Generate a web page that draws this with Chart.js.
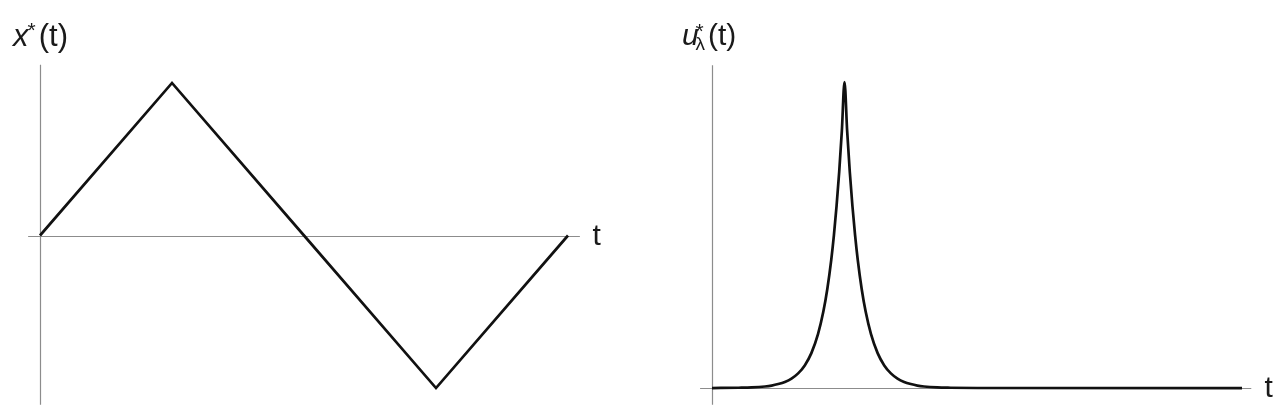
<!DOCTYPE html>
<html>
<head>
<meta charset="utf-8">
<script src="https://cdn.jsdelivr.net/npm/chart.js@4/dist/chart.umd.min.js"></script>
<style>
  html, body { margin:0; padding:0; background:#fff; }
  body { width:1280px; height:416px; position:relative; overflow:hidden; font-family:"Liberation Sans", Arial, sans-serif; color:#1a1a1a; }
  .pane { position:absolute; top:0; width:640px; height:416px; }
  .lbl { position:absolute; white-space:nowrap; }
</style>
</head>
<body>
<div class="pane" style="left:0"><canvas id="c1" width="640" height="416"></canvas></div>
<div class="pane" style="left:640px"><canvas id="c2" width="640" height="416"></canvas></div>

<span class="lbl" style="left:13px;top:19.8px;font-size:31px;line-height:31px;font-style:italic">x</span>
<span class="lbl" style="left:27.5px;top:19.4px;font-size:21px;line-height:21px">*</span>
<span class="lbl" style="left:38.8px;top:19.8px;font-size:31px;line-height:31px">(t)</span>
<span class="lbl" style="left:592.5px;top:219.6px;font-size:30px;line-height:30px">t</span>

<span class="lbl" style="left:682px;top:19.6px;font-size:30px;line-height:30px;font-style:italic">u</span>
<span class="lbl" style="left:695.5px;top:20.4px;font-size:21px;line-height:21px">*</span>
<span class="lbl" style="left:695.5px;top:34px;font-size:19px;line-height:19px">λ</span>
<span class="lbl" style="left:708px;top:20.1px;font-size:30px;line-height:30px">(t)</span>
<span class="lbl" style="left:1264.5px;top:371.6px;font-size:30px;line-height:30px">t</span>

<script>
// ---- data ----
// left panel: x*(t)
const tLeft = [0, 1, 2, 3, 4];
const xStar = [0, 1, 0, -1, 0];

// right panel: u*_λ(t)
const tRight = [0, 0.2, 0.3, 0.4, 0.45, 0.5, 0.55, 0.6, 0.65, 0.7, 0.75, 0.8, 0.84, 0.87, 0.9, 0.92, 0.94, 0.96, 0.98, 1.0,
                1.02, 1.04, 1.06, 1.08, 1.1, 1.13, 1.16, 1.2, 1.25, 1.3, 1.35, 1.4, 1.45, 1.5, 1.55, 1.6, 1.7, 1.8, 2.0, 4.0];
const uStar  = [0, 0.001, 0.002, 0.005, 0.008, 0.013, 0.020, 0.031, 0.048, 0.074, 0.114, 0.176, 0.249, 0.323, 0.419, 0.499, 0.594, 0.706, 0.840, 1.0,
                0.840, 0.706, 0.594, 0.499, 0.419, 0.323, 0.249, 0.176, 0.114, 0.074, 0.048, 0.031, 0.020, 0.013, 0.008, 0.005, 0.002, 0.001, 0.0002, 0];

function axesPlugin(xFrom, xTo, yFrom, yTo) {
  return {
    id: 'axes',
    beforeDatasetsDraw(chart) {
      const {ctx, scales: {x, y}} = chart;
      ctx.save();
      ctx.strokeStyle = '#8c8c8c';
      ctx.lineWidth = 1.2;
      const y0 = Math.round(y.getPixelForValue(0)) + 0.5;
      const x0 = Math.round(x.getPixelForValue(0)) + 0.5;
      ctx.beginPath();
      ctx.moveTo(x.getPixelForValue(xFrom), y0);
      ctx.lineTo(x.getPixelForValue(xTo), y0);
      ctx.moveTo(x0, y.getPixelForValue(yTo));
      ctx.lineTo(x0, y.getPixelForValue(yFrom));
      ctx.stroke();
      ctx.restore();
    }
  };
}

function makeChart(id, ts, vs, xr, yr, pad, axisExt, smooth) {
  return new Chart(document.getElementById(id), {
    type: 'line',
    data: {
      datasets: [{
        data: ts.map((t, i) => ({x: t, y: vs[i]})),
        borderColor: '#111',
        borderWidth: 2.7,
        borderJoinStyle: 'miter',
        pointRadius: 0,
        fill: false,
        tension: 0,
        cubicInterpolationMode: smooth ? 'monotone' : 'default',
        clip: false
      }]
    },
    options: {
      responsive: false,
      animation: false,
      devicePixelRatio: 1,
      layout: { padding: pad },
      plugins: { legend: { display: false }, tooltip: { enabled: false } },
      scales: {
        x: { type: 'linear', display: false, min: xr[0], max: xr[1] },
        y: { type: 'linear', display: false, min: yr[0], max: yr[1] }
      }
    },
    plugins: [axesPlugin(axisExt[0], axisExt[1], axisExt[2], axisExt[3])]
  });
}

makeChart('c1', tLeft, xStar, [-0.1, 4.1], [-1.15, 1.15],
          {left: 26.8, right: 58.8, top: 60.1, bottom: 5.1},
          [-0.09, 4.09, -1.11, 1.12], false);

makeChart('c2', tRight, uStar, [-0.1, 4.1], [-0.06, 1.08],
          {left: 58.75, right: 24.75, top: 57.5, bottom: 9.6},
          [-0.09, 4.07, -0.055, 1.055], true);
</script>
</body>
</html>
